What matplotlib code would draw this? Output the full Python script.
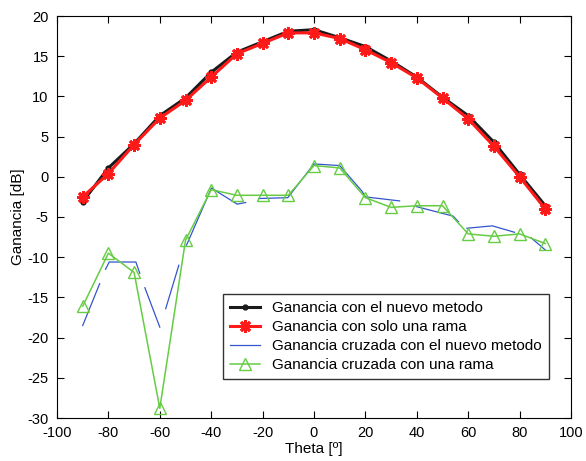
import numpy as np
import matplotlib.pyplot as plt

plt.rcParams['font.family'] = ['Liberation Sans', 'DejaVu Sans']
plt.rcParams['axes.unicode_minus'] = False

theta = [-90, -80, -70, -60, -50, -40, -30, -20, -10, 0, 10, 20, 30, 40, 50, 60, 70, 80, 90]

# ganancia con el nuevo metodo
g_nuevo = [-3.1, 1.1, 4.1, 7.6, 9.8, 13.0, 15.5, 16.8, 18.1, 18.3, 17.3, 16.2, 14.4, 12.4, 9.9, 7.6, 4.3, 0.3, -3.6]
# ganancia con solo una rama
g_rama = [-2.5, 0.4, 4.0, 7.3, 9.5, 12.4, 15.3, 16.6, 17.9, 17.9, 17.2, 15.8, 14.2, 12.3, 9.8, 7.2, 3.8, 0.0, -4.0]

# cruzada con el nuevo metodo (con huecos)
theta_cn = [-90, -83.4, np.nan, -81.1, -79.7, -69.3, -67.8, np.nan, -65.8, -60, np.nan, -57.7, -52.6, np.nan,
            -49.6, -39.9, -29.9, -26.6, np.nan, -21.5, -10.2, 0, 10, 18.7, 20, 33.3, np.nan,
            39.8, 54.2, 56.2, np.nan, 59.5, 69.4, 78, np.nan, 84.5, 90]
g_cn = [-18.5, -13.3, np.nan, -11.5, -10.6, -10.6, -12.0, np.nan, -13.8, -18.7, np.nan, -16.4, -11.0, np.nan,
        -8.5, -1.4, -3.4, -3.2, np.nan, -2.7, -2.6, 1.6, 1.4, -1.8, -2.5, -3.0, np.nan,
        -3.7, -4.9, -5.6, np.nan, -6.4, -6.1, -6.9, np.nan, -7.6, -9.1]

# cruzada con una rama
g_cr = [-16.1, -9.5, -11.9, -28.8, -7.9, -1.6, -2.3, -2.3, -2.3, 1.4, 1.1, -2.6, -3.8, -3.6, -3.6, -7.1, -7.4, -7.1, -8.3]

fig = plt.figure(figsize=(5.86, 4.61), dpi=100)
ax = fig.add_axes([57/586, 1-418/461, 514/586, 402/461])

ax.plot(theta, g_nuevo, color='#1a1a1a', lw=2.2, marker='.', ms=7, zorder=3,
        label='Ganancia con el nuevo metodo')
ax.plot(theta, g_rama, color='#ff1a1a', lw=2.2, marker=(8, 2, 0), ms=9, mew=2, zorder=4,
        label='Ganancia con solo una rama')
ax.plot(theta_cn, g_cn, color='#3355cc', lw=0.9, zorder=2,
        label='Ganancia cruzada con el nuevo metodo')
ax.plot(theta, g_cr, color='#66cc44', lw=1.1, marker='^', ms=9, mfc='none', mec='#66cc44', zorder=2.5,
        label='Ganancia cruzada con una rama')

ax.set_xlim(-100, 100)
ax.set_ylim(-30, 20)
ax.set_xticks(range(-100, 101, 20))
ax.set_yticks(range(-30, 21, 5))
ax.tick_params(direction='in', top=True, right=True, labelsize=10.5, length=5, pad=6)
ax.set_xlabel('Theta [º]', fontsize=11, labelpad=1)
ax.set_ylabel('Ganancia [dB]', fontsize=11, labelpad=2)

leg = ax.legend(loc='lower right', bbox_to_anchor=(0.957, 0.097), borderaxespad=0,
                fancybox=False, edgecolor='black', fontsize=11, handlelength=2.0,
                labelspacing=0.33, borderpad=0.45)
leg.get_frame().set_linewidth(1.0)

fig.savefig('out.png', dpi=100)
